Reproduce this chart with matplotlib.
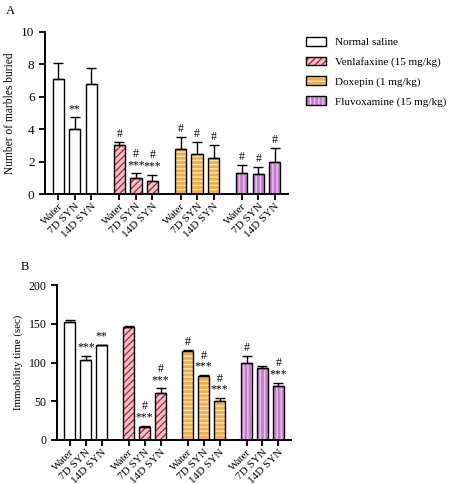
import matplotlib
matplotlib.use('Agg')
import matplotlib.pyplot as plt
import numpy as np
from matplotlib.patches import Patch
from matplotlib.legend_handler import HandlerTuple

plt.rcParams['font.family'] = ['Liberation Serif', 'DejaVu Serif']
plt.rcParams['hatch.linewidth'] = 1.0

# Data
groups = ['Normal saline', 'Venlafaxine (15 mg/kg)', 'Doxepin (1 mg/kg)', 'Fluvoxamine (15 mg/kg)']
days = ['Water', '7D SYN', '14D SYN']

marbles_mean = [[7.1, 4.0, 6.8], [3.0, 1.0, 0.8], [2.8, 2.5, 2.2], [1.3, 1.25, 2.0]]
marbles_err = [[1.0, 0.75, 1.0], [0.2, 0.3, 0.4], [0.7, 0.7, 0.8], [0.5, 0.4, 0.85]]
marbles_sig = [['', '**', ''], ['#', '#\n***', '#\n***'], ['#', '#', '#'], ['#', '#', '#']]

immob_mean = [[152, 103, 122], [146, 17, 60], [115, 82, 50], [100, 92.5, 70]]
immob_err = [[3, 6, 1.2], [0.6, 1.5, 7], [0.6, 2, 4.5], [8, 2.5, 4]]
immob_sig = [['', '***', '**'], ['', '#\n***', '#\n***'], ['#', '#\n***', '#\n***'], ['#', '', '#\n***']]

# Styles per group: face, hatch, hatch colour
faces = ['white', '#f5c3ca', '#f2ac4e', '#c47fcc']
hatches = [None, '/////', '----', '||||']
hcolors = ['white', '#b02d3e', '#fde7ae', '#e9c6ee']

group_gap = 3.7
xpos = [g * group_gap + np.arange(3) for g in range(4)]


def draw_panel(ax, means, errs, sigs, ymax, yticks, ylabel, ytsize, ylsize):
    for g in range(4):
        x = xpos[g]
        ax.bar(x, means[g], width=0.68, color=faces[g], hatch=hatches[g],
               edgecolor=hcolors[g], linewidth=0, zorder=2)
        ax.bar(x, means[g], width=0.68, color='none', edgecolor='black',
               linewidth=1.0, zorder=3)
        ax.errorbar(x, means[g], yerr=[np.zeros(3), errs[g]], fmt='none',
                    ecolor='black', elinewidth=1.0, capsize=3.5, capthick=1.0, zorder=4)
        for i in range(3):
            if sigs[g][i]:
                ax.annotate(sigs[g][i], (x[i], means[g][i] + errs[g][i]),
                            xytext=(0, 1.5), textcoords='offset points',
                            ha='center', va='bottom', fontsize=8.5,
                            linespacing=0.9)
    allx = np.concatenate(xpos)
    ax.set_xticks(allx)
    ax.set_xticklabels(days * 4, rotation=45, ha='right', rotation_mode='anchor',
                       fontsize=8)
    ax.set_xlim(-0.8, 13.9)
    ax.set_ylim(0, ymax)
    ax.set_yticks(yticks)
    ax.tick_params(axis='y', labelsize=ytsize, width=1.3, length=4)
    ax.tick_params(axis='x', width=1.3, length=4, pad=1.5)
    ax.set_ylabel(ylabel, fontsize=ylsize)
    for s in ['top', 'right']:
        ax.spines[s].set_visible(False)
    for s in ['left', 'bottom']:
        ax.spines[s].set_linewidth(1.4)


fig = plt.figure(figsize=(4.5, 4.84), dpi=100)
axA = fig.add_axes([0.10, 0.599, 0.54, 0.335])
axB = fig.add_axes([0.127, 0.091, 0.52, 0.32])

draw_panel(axA, marbles_mean, marbles_err, marbles_sig, 10, [0, 2, 4, 6, 8, 10],
           'Number of marbles buried', 9.5, 8.3)
draw_panel(axB, immob_mean, immob_err, immob_sig, 200, [0, 50, 100, 150, 200],
           'Immobility time (sec)', 8.5, 7.8)

fig.text(0.012, 0.978, 'A', fontsize=9, va='center')
fig.text(0.045, 0.448, 'B', fontsize=9, va='center')

handles = []
for g in range(4):
    h1 = Patch(facecolor=faces[g], hatch=hatches[g], edgecolor=hcolors[g], linewidth=0)
    h2 = Patch(facecolor='none', edgecolor='black', linewidth=1.0)
    handles.append((h1, h2))
fig.legend(handles, groups, loc='upper left', bbox_to_anchor=(0.657, 0.944),
           frameon=False, fontsize=8, handlelength=1.8, handleheight=0.8,
           labelspacing=0.85, handletextpad=0.8,
           handler_map={tuple: HandlerTuple(ndivide=1, pad=0)})

plt.savefig('out.png', dpi=100)
